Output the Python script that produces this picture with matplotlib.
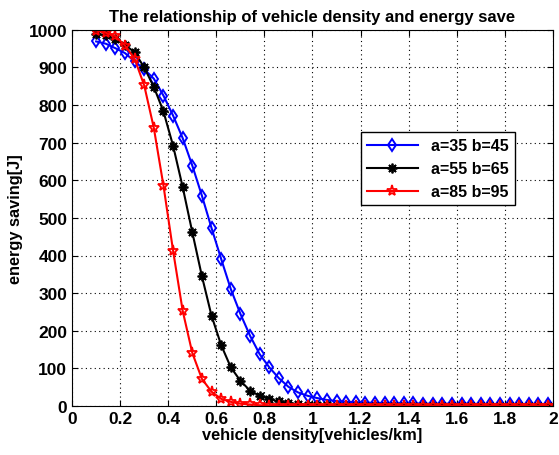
import numpy as np
import matplotlib.pyplot as plt

plt.rcParams['font.family'] = ['Liberation Sans', 'DejaVu Sans']
plt.rcParams['font.weight'] = 'bold'

density = [0.10, 0.14, 0.18, 0.22, 0.26, 0.30, 0.34, 0.38, 0.42, 0.46,
           0.50, 0.54, 0.58, 0.62, 0.66, 0.70, 0.74, 0.78, 0.82, 0.86,
           0.90, 0.94, 0.98, 1.02, 1.06, 1.10, 1.14, 1.18, 1.22, 1.26,
           1.30, 1.34, 1.38, 1.42, 1.46, 1.50, 1.54, 1.58, 1.62, 1.66,
           1.70, 1.74, 1.78, 1.82, 1.86, 1.90, 1.94, 1.98]

saving_35_45 = [969, 963, 951, 938, 916, 895, 870, 825, 772, 712,
                639, 559, 473, 391, 311, 245, 187, 138, 103, 74,
                51, 36, 27, 21, 16, 13, 11, 10, 9, 8,
                8, 7, 7, 7, 6, 6, 6, 6, 6, 6,
                5, 5, 5, 5, 5, 5, 5, 5]

saving_55_65 = [990, 985, 975, 960, 940, 900, 848, 783, 692, 582,
                462, 345, 240, 162, 103, 67, 41, 27, 19, 12,
                8, 5, 3, 2, 2, 1, 1, 1, 1, 1,
                1, 1, 1, 1, 1, 1, 1, 1, 1, 1,
                1, 1, 1, 1, 1, 1, 1, 1]

saving_85_95 = [998, 992, 983, 958, 923, 852, 739, 586, 413, 253,
                141, 72, 38, 19, 11, 6, 4, 2, 1, 1,
                1, 0, 0, 0, 0, 0, 0, 0, 0, 0,
                0, 0, 0, 0, 0, 0, 0, 0, 0, 0,
                0, 0, 0, 0, 0, 0, 0, 0]

labels = ['a=35 b=45', 'a=55 b=65', 'a=85 b=95']

fig = plt.figure(figsize=(5.59, 4.56), dpi=100)
ax = fig.add_axes([0.129, 0.1075, 0.860, 0.825])

ax.plot(density, saving_35_45, color='blue', lw=1.5, marker='d', ms=6.5,
        mfc='none', mew=1.4, label=labels[0])
ax.plot(density, saving_55_65, color='black', lw=1.5, marker=(8, 2, 0), ms=7,
        mew=1.3, label=labels[1])
ax.plot(density, saving_85_95, color='red', lw=1.5, marker='*', ms=8,
        mfc='none', mew=1.3, label=labels[2])

ax.set_xlim(0, 2)
ax.set_ylim(0, 1000)
ax.set_xticks(np.arange(0, 2.01, 0.2))
ax.set_xticklabels(['0', '0.2', '0.4', '0.6', '0.8', '1', '1.2', '1.4', '1.6', '1.8', '2'])
ax.set_yticks(range(0, 1001, 100))
ax.grid(True, ls=(0, (1, 3)), color='black', lw=0.8)
ax.tick_params(direction='in', top=True, right=True, labelsize=12.5, length=4)
for lab in ax.get_xticklabels() + ax.get_yticklabels():
    lab.set_fontweight('bold')

ax.set_title('The relationship of vehicle density and energy save', fontsize=12, fontweight='bold', pad=6)
ax.set_xlabel('vehicle density[vehicles/km]', fontsize=11.8, fontweight='bold', labelpad=1)
ax.set_ylabel('energy saving[J]', fontsize=11.8, fontweight='bold', labelpad=4)

leg = ax.legend(loc='upper left', bbox_to_anchor=(0.60, 0.729), fontsize=11.5,
                fancybox=False, edgecolor='black', framealpha=1, borderaxespad=0,
                handlelength=3.2, labelspacing=0.5)
leg.get_frame().set_linewidth(1.0)

fig.savefig('out.png', dpi=100)
